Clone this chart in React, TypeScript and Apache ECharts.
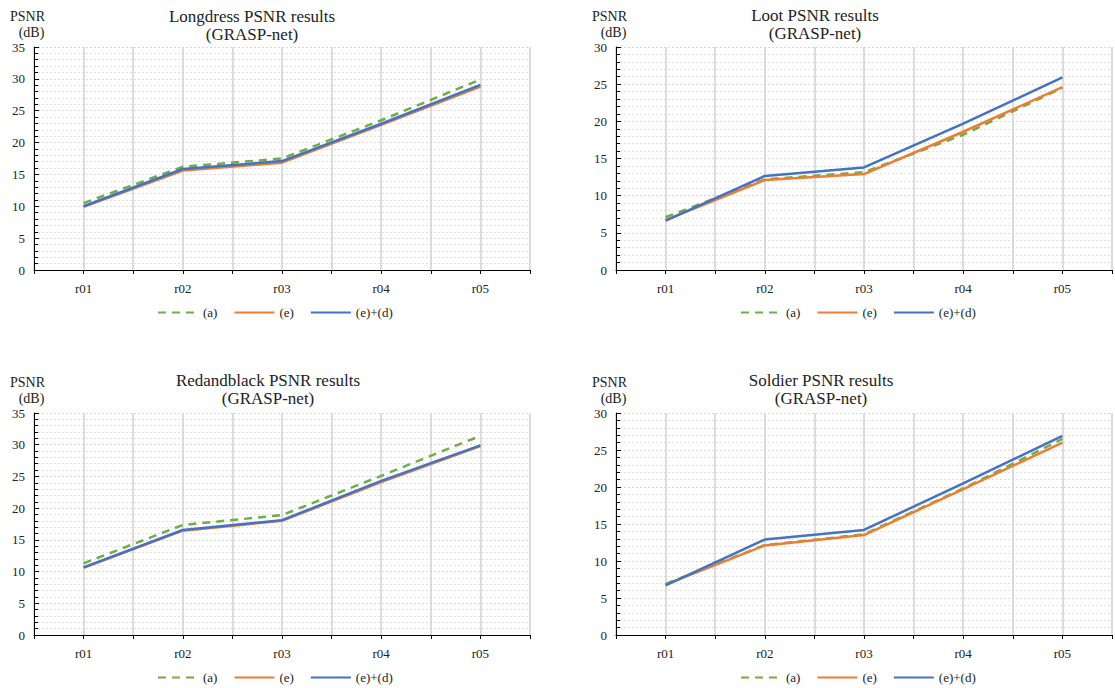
import React, { useEffect, useRef } from 'react';
import * as echarts from 'echarts';

const categories = ['r01', 'r02', 'r03', 'r04', 'r05'];
const seriesNames = ['(a)', '(e)', '(e)+(d)'];

const longdressA = [10.5, 16.2, 17.5, 23.5, 29.9];
const longdressE = [9.9, 15.6, 16.85, 22.8, 28.8];
const longdressED = [10.0, 15.85, 17.1, 22.95, 29.05];

const lootA = [7.1, 12.2, 13.15, 18.2, 24.5];
const lootE = [6.7, 12.1, 12.9, 18.6, 24.6];
const lootED = [6.65, 12.65, 13.8, 19.7, 25.9];

const redA = [11.3, 17.35, 18.9, 25.1, 31.4];
const redE = [10.6, 16.45, 18.0, 24.1, 29.8];
const redED = [10.65, 16.55, 18.1, 24.3, 29.9];

const soldierA = [6.9, 12.15, 13.6, 19.8, 26.5];
const soldierE = [6.8, 12.1, 13.5, 19.7, 26.0];
const soldierED = [6.7, 12.9, 14.2, 20.5, 26.9];

const yTickMax = [35, 30, 35, 30];
const titles = [
  'Longdress PSNR results\n(GRASP-net)',
  'Loot PSNR results\n(GRASP-net)',
  'Redandblack PSNR results\n(GRASP-net)',
  'Soldier PSNR results\n(GRASP-net)',
];
const panelData = [
  [longdressA, longdressE, longdressED],
  [lootA, lootE, lootED],
  [redA, redE, redED],
  [soldierA, soldierE, soldierED],
];

const FONT = 'Liberation Serif';
const colors = ['#70AD47', '#ED7D31', '#4472C4'];

// layout (pixels)
const layout = [
  { left: 34, top: 47, width: 496, height: 223, titleX: 252, titleY: 7, unitX: 27.5, unitY: 8.5, legendLeft: 157, legendTop: 306 },
  { left: 616, top: 47, width: 497, height: 223, titleX: 815, titleY: 6, unitX: 609.5, unitY: 8, legendLeft: 740, legendTop: 306 },
  { left: 34, top: 413, width: 496, height: 222, titleX: 268, titleY: 371, unitX: 27.5, unitY: 374, legendLeft: 157, legendTop: 671 },
  { left: 616, top: 413, width: 497, height: 222, titleX: 821, titleY: 371, unitX: 609.5, unitY: 374, legendLeft: 740, legendTop: 671 },
];

export default function App() {
  const ref = useRef<HTMLDivElement>(null);
  useEffect(() => {
    if (!ref.current) return;
    const chart = echarts.init(ref.current, null, { renderer: 'svg' });

    const grid = layout.map((l) => ({ left: l.left, top: l.top, width: l.width, height: l.height, containLabel: false }));

    const xAxis = layout.map((_, i) => ({
      type: 'value',
      gridIndex: i,
      min: 0.5,
      max: 5.5,
      interval: 0.5,
      axisLine: { show: true, onZero: false, lineStyle: { color: '#000', width: 1 } },
      axisTick: { show: true, length: 4, lineStyle: { color: '#000' } },
      axisLabel: {
        fontFamily: FONT,
        fontSize: 13,
        color: '#222',
        margin: 12,
        formatter: (v: number) => {
          const k = Math.round(v * 2);
          if (k % 2 !== 0) return '';
          return categories[k / 2 - 1] ?? '';
        },
      },
      splitLine: { show: true, lineStyle: { color: '#d0d0d0', width: 1.5 } },
    }));

    const yAxis = layout.map((_, i) => ({
      type: 'value',
      gridIndex: i,
      min: 0,
      max: yTickMax[i],
      interval: 5,
      axisLine: { show: true, lineStyle: { color: '#000', width: 1 } },
      axisTick: { show: true, inside: true, length: 5, lineStyle: { color: '#000' } },
      minorTick: { show: true, splitNumber: 5, length: 4, lineStyle: { color: '#000' } },
      axisLabel: { fontFamily: FONT, fontSize: 13, color: '#222', margin: 9 },
      splitLine: { show: true, lineStyle: { color: '#d9d9d9', type: [2, 2], width: 1 } },
      minorSplitLine: { show: true, lineStyle: { color: '#e0e0e0', type: [2, 2], width: 1 } },
    }));

    const series: any[] = [];
    panelData.forEach((sets, i) => {
      sets.forEach((vals, j) => {
        series.push({
          type: 'line',
          name: seriesNames[j],
          xAxisIndex: i,
          yAxisIndex: i,
          symbol: 'none',
          data: vals.map((v, k) => [k + 1, v]),
          lineStyle: {
            color: colors[j],
            width: 2.5,
            type: j === 0 ? [8, 6] : 'solid',
          },
          itemStyle: { color: colors[j] },
          z: 3 + j,
        });
      });
    });

    const legend = layout.map((l) => ({
      data: seriesNames,
      left: l.legendLeft,
      top: l.legendTop,
      padding: 0,
      itemWidth: 40,
      itemHeight: 10,
      itemGap: 16,
      itemStyle: { opacity: 0 },
      textStyle: { fontFamily: FONT, fontSize: 13, color: '#222' },
    }));

    const graphic: any[] = [];
    layout.forEach((l, i) => {
      graphic.push({
        type: 'text',
        x: l.titleX,
        y: l.titleY,
        style: {
          text: titles[i],
          font: `17px ${FONT}`,
          fill: '#222',
          align: 'center',
          textAlign: 'center',
          verticalAlign: 'top',
          textVerticalAlign: 'top',
          lineHeight: 18,
        },
      });
      graphic.push({
        type: 'text',
        x: l.unitX,
        y: l.unitY,
        style: {
          text: 'PSNR',
          font: `14px ${FONT}`,
          fill: '#222',
          align: 'center',
          textAlign: 'center',
          verticalAlign: 'top',
          textVerticalAlign: 'top',
          lineHeight: 16,
        },
      });
      graphic.push({
        type: 'text',
        x: l.unitX + 4,
        y: l.unitY + 16,
        style: {
          text: '(dB)',
          font: `14px ${FONT}`,
          fill: '#222',
          align: 'center',
          textAlign: 'center',
          verticalAlign: 'top',
          textVerticalAlign: 'top',
          lineHeight: 16,
        },
      });
    });

    chart.setOption({
      animation: false,
      backgroundColor: '#fff',
      textStyle: { fontFamily: FONT },
      grid,
      xAxis,
      yAxis,
      series,
      legend,
      graphic,
    });

    return () => chart.dispose();
  }, []);

  return (
    <div
      ref={ref}
      style={{ position: 'absolute', left: 0, top: 0, width: 1115, height: 688, background: '#fff' }}
    />
  );
}
